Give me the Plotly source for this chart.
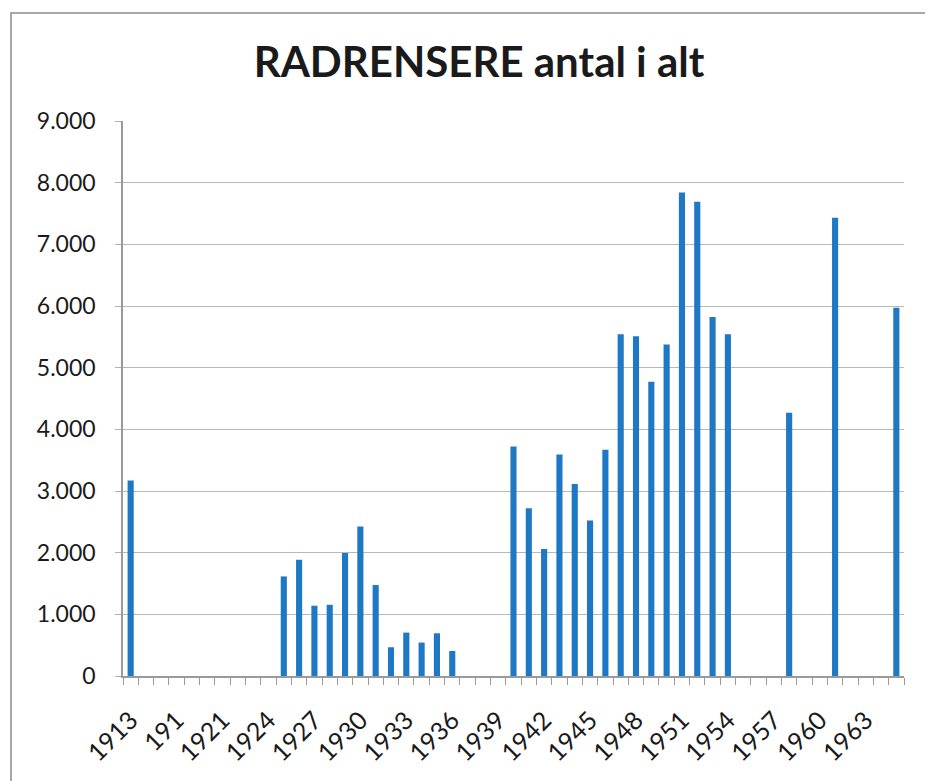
import plotly.graph_objects as go

# Category labels (one per year slot on the axis)
years = ["1913", "1916", "1917", "191"] + [str(y) for y in range(1919, 1966)]

# Values (None = no bar)
values = [None] * len(years)
data_points = {
    "1913": 3170,
    "1925": 1615, "1926": 1885, "1927": 1140, "1928": 1155, "1929": 1995,
    "1930": 2425, "1931": 1475, "1932": 466, "1933": 704, "1934": 542,
    "1935": 693, "1936": 406,
    "1940": 3720, "1941": 2720, "1942": 2060, "1943": 3590, "1944": 3115,
    "1945": 2520, "1946": 3670, "1947": 5540, "1948": 5510, "1949": 4770,
    "1950": 5375, "1951": 7840, "1952": 7690, "1953": 5820, "1954": 5540,
    "1958": 4270, "1961": 7430, "1965": 5970,
}
for k, v in data_points.items():
    values[years.index(k)] = v

x_pos = list(range(len(years)))
label_step = 3
tick_positions = x_pos[::label_step]
tick_labels = years[::label_step]

y_ticks = list(range(0, 9001, 1000))

fig = go.Figure()
fig.add_trace(go.Bar(
    x=x_pos, y=values, width=0.4,
    marker=dict(color="#1f78c4", line=dict(width=0)),
    hoverinfo="x+y",
))

font_family = "Lato, 'Open Sans', Arial, sans-serif"

# page offset of 8px (body margin) is compensated in margins
L, T, PW, PH = 115, 113, 781, 555

fig.update_layout(
    width=933, height=781,
    margin=dict(l=L, r=933 - L - PW, t=T, b=781 - T - PH),
    paper_bgcolor="white", plot_bgcolor="white",
    separators=",.",
    showlegend=False,
    title=dict(
        text="RADRENSERE antal i alt",
        font=dict(family=font_family, size=42, color="#1a1a1a", weight="bold"),
        x=(479 - 8) / 933, xanchor="center", y=1 - (62 - 8) / 781,
        yanchor="middle", yref="container",
    ),
    xaxis=dict(
        range=[-0.5, len(years) - 0.5],
        tickmode="array", tickvals=tick_positions, ticktext=tick_labels,
        tickangle=-45, ticks="", showgrid=False, zeroline=False,
        showline=True, linecolor="#9a9a9a", linewidth=1.5,
        tickfont=dict(family=font_family, size=25, color="#1a1a1a"),
        ticklabelstandoff=18,
        minor=dict(tick0=-0.5, dtick=1, ticks="outside", ticklen=7,
                   tickcolor="#9a9a9a", tickwidth=1, showgrid=False),
        automargin=False,
        fixedrange=True,
    ),
    yaxis=dict(
        range=[0, 9000], tickmode="array", tickvals=y_ticks,
        tickformat=",d",
        ticks="outside", ticklen=6, tickcolor="#b0b0b0",
        showgrid=True, gridcolor="#b8b8b8", gridwidth=1.2,
        showline=True, linecolor="#9a9a9a", linewidth=1.5,
        zeroline=False,
        tickfont=dict(family=font_family, size=23, color="#1a1a1a"),
        ticklabelstandoff=15,
        automargin=False,
        fixedrange=True,
    ),
    shapes=[
        dict(type="rect", xref="paper", yref="paper",
             x0=(3 - L) / PW, x1=(960 - L) / PW,
             y0=-(800 - (T + PH)) / PH, y1=(T + PH - 5) / PH,
             line=dict(color="#8a8a8a", width=1.5), fillcolor="rgba(0,0,0,0)",
             layer="below"),
    ],
)

fig.write_html("out.html")
